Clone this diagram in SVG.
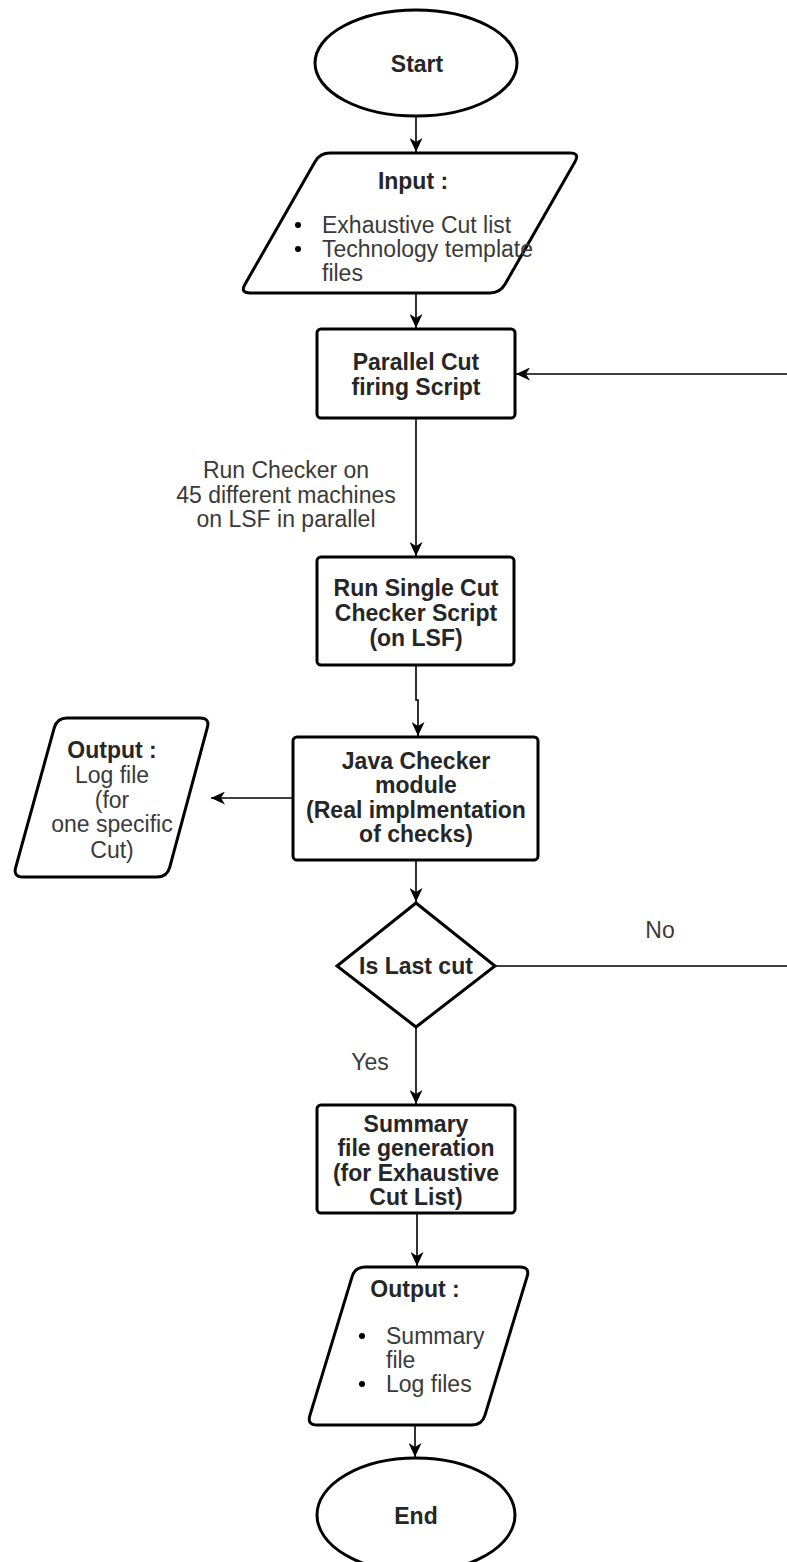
<svg xmlns="http://www.w3.org/2000/svg" width="787" height="1562" viewBox="0 0 787 1562">
<style>
  .shape { fill: #ffffff; stroke: #000000; stroke-width: 3; }
  .conn { fill: none; stroke: #000000; stroke-width: 1.6; }
  .t { font-family: "Liberation Sans", Arial, sans-serif; font-size: 23px; fill: #3a3a3a; }
  .b { font-weight: bold; fill: #262626; }
  .c { text-anchor: middle; }
</style>
<defs>
  <marker id="arrow" viewBox="0 0 14 13" refX="14" refY="6.5" markerWidth="14" markerHeight="13" markerUnits="userSpaceOnUse" orient="auto">
    <path d="M0,0 L14,6.5 L0,13 L4,6.5 Z" fill="#000000"/>
  </marker>
</defs>
<rect width="787" height="1562" fill="#ffffff"/>

<g id="connectors">
  <line class="conn" x1="416" y1="117" x2="416" y2="152" marker-end="url(#arrow)"/>
  <line class="conn" x1="416" y1="293" x2="416" y2="328" marker-end="url(#arrow)"/>
  <line class="conn" x1="416" y1="418" x2="416" y2="556" marker-end="url(#arrow)"/>
  <path class="conn" d="M416,665 V700 H418 V736" marker-end="url(#arrow)"/>
  <line class="conn" x1="293" y1="798" x2="211" y2="798" marker-end="url(#arrow)"/>
  <line class="conn" x1="416" y1="860" x2="416" y2="902" marker-end="url(#arrow)"/>
  <line class="conn" x1="416" y1="1027" x2="416" y2="1104" marker-end="url(#arrow)"/>
  <path class="conn" d="M495,966 H800 V374 H516" marker-end="url(#arrow)"/>
  <line class="conn" x1="417" y1="1213" x2="417" y2="1266" marker-end="url(#arrow)"/>
  <line class="conn" x1="415" y1="1425" x2="415" y2="1457" marker-end="url(#arrow)"/>
  <text class="t c" x="286" y="478">Run Checker on</text>
  <text class="t c" x="286" y="503">45 different machines</text>
  <text class="t c" x="286" y="527">on LSF in parallel</text>
  <text class="t c" x="660" y="938">No</text>
  <text class="t c" x="370" y="1070">Yes</text>
</g>

<g id="start">
  <ellipse class="shape" cx="416" cy="63" rx="101" ry="53"/>
  <text class="t b c" x="417" y="72">Start</text>
</g>

<g id="input">
  <path class="shape" d="M330,153 L570,153 Q580,153 575,161.7 L505,284.3 Q500,293 490,293 L250,293 Q240,293 245,284.3 L315,161.7 Q320,153 330,153 Z"/>
  <text class="t b c" x="413" y="189">Input :</text>
  <circle cx="298" cy="225" r="3" fill="#000"/>
  <text class="t" x="322" y="233">Exhaustive Cut list</text>
  <circle cx="298" cy="249" r="3" fill="#000"/>
  <text class="t" x="322" y="257">Technology template</text>
  <text class="t" x="322" y="281">files</text>
</g>

<g id="parallel">
  <rect class="shape" x="317" y="329" width="198" height="89" rx="4"/>
  <text class="t b c" x="416" y="370">Parallel Cut</text>
  <text class="t b c" x="416" y="395">firing Script</text>
</g>

<g id="runsingle">
  <rect class="shape" x="317" y="557" width="197" height="108" rx="4"/>
  <text class="t b c" x="416" y="596">Run Single Cut</text>
  <text class="t b c" x="416" y="621">Checker Script</text>
  <text class="t b c" x="416" y="646">(on LSF)</text>
</g>

<g id="java">
  <rect class="shape" x="293" y="737" width="245" height="123" rx="4"/>
  <text class="t b c" x="416" y="769">Java Checker</text>
  <text class="t b c" x="416" y="793">module</text>
  <text class="t b c" x="416" y="818">(Real implmentation</text>
  <text class="t b c" x="416" y="842">of checks)</text>
</g>

<g id="output1">
  <path class="shape" d="M67,718 L200,718 Q210,718 207.3,727.7 L169.7,867.3 Q167,877 157,877 L23,877 Q13,877 15.7,867.3 L54.3,727.7 Q57,718 67,718 Z"/>
  <text class="t b c" x="112" y="758">Output :</text>
  <text class="t c" x="112" y="783">Log file</text>
  <text class="t c" x="112" y="808">(for</text>
  <text class="t c" x="112" y="832">one specific</text>
  <text class="t c" x="112" y="858">Cut)</text>
</g>

<g id="decision">
  <path class="shape" d="M416,903 L495,966 L416,1027 L337,966 Z"/>
  <text class="t b c" x="416" y="974">Is Last cut</text>
</g>

<g id="summary">
  <rect class="shape" x="317" y="1105" width="198" height="108" rx="4"/>
  <text class="t b c" x="416" y="1132">Summary</text>
  <text class="t b c" x="416" y="1156">file generation</text>
  <text class="t b c" x="416" y="1181">(for Exhaustive</text>
  <text class="t b c" x="416" y="1205">Cut List)</text>
</g>

<g id="output2">
  <path class="shape" d="M365,1267 L520,1267 Q530,1267 527.1,1276.6 L484.9,1415.4 Q482,1425 472,1425 L317,1425 Q307,1425 309.9,1415.4 L352.1,1276.6 Q355,1267 365,1267 Z"/>
  <text class="t b c" x="415" y="1297">Output :</text>
  <circle cx="362" cy="1336" r="3" fill="#000"/>
  <text class="t" x="386" y="1344">Summary</text>
  <text class="t" x="386" y="1368">file</text>
  <circle cx="362" cy="1384" r="3" fill="#000"/>
  <text class="t" x="386" y="1392">Log files</text>
</g>

<g id="end">
  <ellipse class="shape" cx="416" cy="1515" rx="99" ry="57"/>
  <text class="t b c" x="416" y="1524">End</text>
</g>
</svg>
